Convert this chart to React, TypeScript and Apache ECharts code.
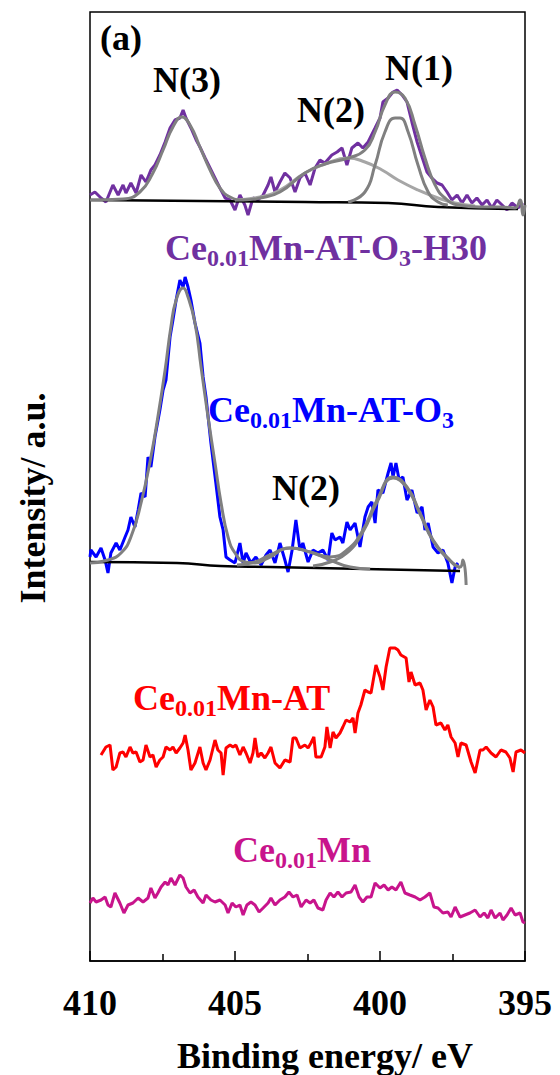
import React, { useEffect, useRef } from "react";
import * as echarts from "echarts";

// Binding energy (eV) vs. intensity (a.u., spectra stacked with offsets)
const purpleData: number[][] = [
  [410.0, 766], [409.83, 769], [409.62, 763], [409.45, 759], [409.21, 776], [409.03, 766], [408.86, 776],
  [408.76, 768], [408.59, 778], [408.41, 768], [408.24, 786], [408.07, 779], [407.9, 791], [407.76, 796],
  [407.59, 806], [407.41, 819], [407.24, 833], [407.07, 841], [406.9, 843], [406.79, 851], [406.69, 843],
  [406.52, 833], [406.34, 821], [406.21, 814], [406.03, 803], [405.86, 793], [405.69, 783], [405.52, 773],
  [405.34, 763], [405.17, 761], [405.0, 751], [404.83, 766], [404.66, 756], [404.55, 746], [404.38, 763],
  [404.21, 761], [404.03, 766], [403.86, 776], [403.76, 784], [403.62, 769], [403.45, 779], [403.28, 788],
  [403.1, 783], [402.93, 769], [402.76, 783], [402.59, 788], [402.41, 776], [402.24, 793], [402.07, 801],
  [401.9, 798], [401.66, 806], [401.48, 809], [401.31, 813], [401.14, 796], [400.97, 813], [400.76, 818],
  [400.59, 813], [400.41, 819], [400.17, 833], [400.0, 843], [399.9, 859], [399.72, 863], [399.55, 869],
  [399.41, 871], [399.24, 866], [399.07, 859], [398.9, 839], [398.72, 819], [398.55, 804], [398.38, 789],
  [398.21, 783], [398.03, 778], [397.86, 776], [397.69, 769], [397.52, 761], [397.34, 766], [397.17, 758],
  [397.0, 766], [396.83, 758], [396.66, 763], [396.48, 756], [396.31, 761], [396.14, 753], [395.97, 761],
  [395.79, 756], [395.62, 751], [395.45, 758], [395.24, 753], [395.07, 758]
];
const purpleEnvelope: number[][] = [
  [410.0, 761], [408.86, 762], [408.28, 769], [407.83, 788], [407.48, 811], [407.14, 834], [406.83, 844],
  [406.55, 836], [406.21, 814], [405.86, 791], [405.52, 773], [405.17, 764], [404.72, 761], [404.14, 763],
  [403.45, 769], [402.59, 788], [401.9, 797], [401.1, 803], [400.52, 811], [400.17, 829], [399.83, 856],
  [399.48, 869], [399.14, 863], [398.79, 836], [398.45, 803], [398.1, 776], [397.76, 763], [397.31, 756],
  [396.55, 754], [395.86, 754], [395.34, 753], [395.17, 761], [395.07, 746], [395.0, 756]
];
const purpleN1: number[][] = [
  [401.1, 759], [400.52, 769], [400.17, 796], [399.83, 829], [399.48, 843], [399.31, 843], [399.03, 829],
  [398.69, 796], [398.34, 769], [398.0, 759], [397.66, 756]
];
const purpleN2: number[][] = [
  [405.0, 761], [404.14, 764], [403.45, 771], [402.59, 788], [401.9, 797], [401.1, 803], [400.52, 799],
  [399.93, 791], [399.38, 781], [398.69, 771], [398.0, 763], [397.41, 758], [396.72, 755]
];
const purpleBaseline: number[][] = [
  [410.0, 761], [402.59, 759], [399.72, 758], [398.0, 754], [395.24, 752]
];

const blueData: number[][] = [
  [410.0, 404], [409.97, 411], [409.79, 404], [409.62, 413], [409.48, 401], [409.38, 388], [409.28, 408],
  [409.1, 418], [408.97, 411], [408.79, 424], [408.69, 431], [408.59, 444], [408.45, 434], [408.34, 451],
  [408.24, 468], [408.1, 464], [408.0, 504], [407.9, 494], [407.76, 524], [407.59, 551], [407.48, 571],
  [407.38, 581], [407.24, 624], [407.14, 641], [407.03, 661], [406.9, 681], [406.79, 674], [406.72, 684],
  [406.62, 674], [406.52, 661], [406.38, 638], [406.21, 618], [406.1, 584], [406.0, 564], [405.83, 518],
  [405.66, 478], [405.52, 444], [405.41, 431], [405.31, 404], [405.17, 401], [405.0, 398], [404.83, 418],
  [404.72, 398], [404.62, 408], [404.45, 398], [404.28, 404], [404.1, 396], [403.93, 406], [403.79, 411],
  [403.62, 398], [403.45, 418], [403.28, 401], [403.17, 389], [403.03, 411], [402.9, 441], [402.76, 411],
  [402.66, 418], [402.48, 399], [402.31, 411], [402.14, 408], [401.97, 411], [401.79, 401], [401.66, 428],
  [401.55, 421], [401.38, 424], [401.28, 418], [401.14, 439], [401.03, 431], [400.86, 438], [400.69, 414],
  [400.52, 444], [400.41, 454], [400.28, 459], [400.17, 438], [400.07, 471], [399.9, 468], [399.72, 488],
  [399.62, 498], [399.55, 484], [399.45, 498], [399.34, 481], [399.21, 484], [399.07, 461], [398.9, 471],
  [398.72, 448], [398.55, 454], [398.45, 431], [398.34, 438], [398.17, 414], [398.0, 408], [397.83, 411],
  [397.66, 398], [397.52, 378], [397.41, 394], [397.31, 398]
];
const blueEnvelope: number[][] = [
  [410.0, 398], [409.38, 401], [408.93, 408], [408.59, 424], [408.24, 458], [407.9, 504], [407.66, 544],
  [407.41, 591], [407.21, 634], [407.03, 661], [406.79, 673], [406.62, 664], [406.38, 638], [406.17, 594],
  [405.93, 544], [405.69, 498], [405.48, 458], [405.24, 424], [405.0, 408], [404.66, 399], [404.31, 398],
  [403.86, 403], [403.1, 413], [402.41, 409], [401.72, 404], [401.14, 411], [400.59, 431], [400.1, 461],
  [399.55, 484], [399.07, 474], [398.62, 448], [398.17, 421], [397.69, 404], [397.24, 394], [397.14, 401],
  [397.03, 376]
];
const blueN1: number[][] = [
  [402.31, 395], [401.72, 399], [401.14, 408], [400.59, 429], [400.1, 459], [399.55, 483], [399.07, 473],
  [398.62, 447], [398.17, 420], [397.69, 403], [397.24, 393]
];
const blueN2: number[][] = [
  [404.93, 396], [404.31, 399], [403.79, 406], [403.1, 413], [402.41, 409], [401.72, 401], [401.03, 394],
  [400.34, 392]
];
const blueBaseline: number[][] = [
  [410.0, 399], [407.0, 398], [405.5, 395], [403.79, 394], [397.24, 390]
];

const redData: number[][] = [
  [409.62, 206], [409.45, 214], [409.31, 216], [409.21, 191], [409.1, 194], [408.97, 208], [408.86, 209],
  [408.76, 204], [408.62, 214], [408.52, 208], [408.41, 209], [408.28, 199], [408.17, 201], [408.07, 216],
  [407.93, 204], [407.83, 206], [407.72, 194], [407.59, 201], [407.48, 204], [407.38, 214], [407.24, 211],
  [407.14, 214], [407.03, 208], [406.9, 213], [406.79, 218], [406.72, 226], [406.62, 211], [406.52, 191],
  [406.38, 198], [406.21, 214], [406.1, 198], [406.0, 191], [405.86, 201], [405.69, 221], [405.59, 211],
  [405.48, 208], [405.41, 186], [405.31, 213], [405.17, 216], [405.07, 214], [404.97, 216], [404.83, 206],
  [404.72, 214], [404.62, 208], [404.48, 198], [404.38, 208], [404.31, 223], [404.21, 204], [404.1, 208],
  [403.97, 203], [403.86, 208], [403.76, 214], [403.62, 198], [403.45, 193], [403.28, 201], [403.1, 199],
  [403.0, 223], [402.9, 223], [402.76, 213], [402.59, 216], [402.48, 213], [402.38, 218], [402.28, 224],
  [402.21, 204], [402.03, 204], [401.9, 214], [401.83, 234], [401.72, 213], [401.62, 229], [401.52, 223],
  [401.38, 228], [401.28, 234], [401.17, 241], [401.03, 239], [400.93, 243], [400.86, 228], [400.76, 248],
  [400.66, 256], [400.52, 271], [400.41, 269], [400.31, 268], [400.14, 296], [400.0, 284], [399.9, 271],
  [399.79, 294], [399.66, 313], [399.48, 313], [399.38, 311], [399.28, 306], [399.1, 303], [399.0, 279],
  [398.93, 289], [398.79, 276], [398.62, 278], [398.52, 271], [398.41, 251], [398.28, 261], [398.17, 254],
  [398.07, 236], [397.9, 238], [397.76, 231], [397.66, 236], [397.55, 224], [397.41, 218], [397.31, 204],
  [397.21, 218], [397.03, 216], [396.86, 199], [396.72, 188], [396.55, 211], [396.45, 211], [396.34, 214],
  [396.17, 208], [396.0, 204], [395.83, 211], [395.66, 209], [395.52, 203], [395.41, 189], [395.31, 209],
  [395.14, 211], [395.0, 208]
];

const magentaData: number[][] = [
  [410.0, 58], [409.9, 63], [409.79, 59], [409.62, 61], [409.48, 64], [409.38, 56], [409.28, 54],
  [409.14, 68], [408.97, 58], [408.83, 48], [408.69, 56], [408.52, 58], [408.34, 63], [408.17, 59],
  [408.0, 63], [407.9, 73], [407.76, 63], [407.66, 68], [407.55, 74], [407.41, 79], [407.31, 76],
  [407.21, 83], [407.07, 76], [406.9, 86], [406.79, 83], [406.69, 74], [406.55, 68], [406.41, 71],
  [406.28, 64], [406.1, 58], [406.0, 66], [405.83, 61], [405.69, 59], [405.52, 61], [405.34, 56],
  [405.24, 48], [405.1, 58], [404.97, 54], [404.83, 56], [404.72, 46], [404.59, 56], [404.45, 59],
  [404.31, 56], [404.17, 49], [404.03, 53], [403.86, 58], [403.76, 63], [403.62, 56], [403.45, 61],
  [403.28, 64], [403.14, 69], [403.0, 64], [402.86, 66], [402.72, 54], [402.55, 61], [402.41, 58],
  [402.28, 61], [402.14, 53], [401.97, 51], [401.86, 61], [401.72, 68], [401.59, 64], [401.45, 69],
  [401.31, 64], [401.17, 68], [401.0, 69], [400.86, 76], [400.72, 64], [400.59, 59], [400.45, 64],
  [400.31, 64], [400.17, 78], [400.0, 73], [399.86, 76], [399.72, 71], [399.59, 74], [399.45, 71],
  [399.28, 79], [399.14, 68], [398.97, 66], [398.79, 64], [398.62, 61], [398.45, 64], [398.28, 68],
  [398.14, 54], [398.0, 53], [397.83, 48], [397.66, 49], [397.55, 44], [397.41, 54], [397.24, 44],
  [397.07, 46], [396.9, 48], [396.72, 51], [396.55, 44], [396.41, 48], [396.28, 43], [396.17, 51],
  [396.03, 43], [395.86, 48], [395.76, 41], [395.62, 46], [395.48, 53], [395.34, 46], [395.17, 48],
  [395.07, 39], [395.0, 38]
];

const FF = "Liberation Serif";
const C_PURPLE = "#7030A0";
const C_BLUE = "#0000FF";
const C_RED = "#FF0000";
const C_MAGENTA = "#C8148C";
const C_FIT = "#808080";
const C_FIT2 = "#A6A6A6";

function lineSeries(data: number[][], color: string, width: number, smooth: boolean | number, z: number) {
  return {
    type: "line",
    data,
    showSymbol: false,
    symbol: "none",
    smooth,
    lineStyle: { color, width },
    z,
    silent: true,
  };
}

function richLabel(text: string, color: string, x: number, y: number) {
  return {
    type: "text",
    x,
    y,
    style: {
      text,
      align: "left",
      verticalAlign: "middle",
      fill: color,
      fontFamily: FF,
      fontWeight: "bold",
      fontSize: 36,
      rich: {
        m: { fontFamily: FF, fontWeight: "bold", fontSize: 36, lineHeight: 40, verticalAlign: "top", fill: color },
        s: { fontFamily: FF, fontWeight: "bold", fontSize: 24, lineHeight: 18, verticalAlign: "bottom", fill: color },
      },
    },
  };
}

function plainLabel(text: string, x: number, y: number, align: string = "center", rotation = 0) {
  return {
    type: "text",
    x,
    y,
    rotation,
    style: {
      text,
      align,
      verticalAlign: "middle",
      fill: "#000",
      fontFamily: FF,
      fontWeight: "bold",
      fontSize: 36,
    },
  };
}

export default function App() {
  const ref = useRef<HTMLDivElement>(null);
  useEffect(() => {
    if (!ref.current) return;
    const chart = echarts.init(ref.current, undefined, { renderer: "svg" });
    chart.setOption({
      animation: false,
      backgroundColor: "#fff",
      textStyle: { fontFamily: FF },
      grid: { left: 90, right: 35, top: 12, bottom: 114, show: true, borderColor: "#000", borderWidth: 1.5 },
      xAxis: {
        type: "value",
        min: 395,
        max: 410,
        interval: 5,
        inverse: true,
        axisLine: { show: true, lineStyle: { color: "#000", width: 1.5 } },
        axisTick: { show: true, inside: true, length: 10, lineStyle: { color: "#000", width: 1.5 } },
        minorTick: { show: true, splitNumber: 2, length: 7, lineStyle: { color: "#000", width: 1.5 } },
        axisLabel: { color: "#000", fontFamily: FF, fontWeight: "bold", fontSize: 36, margin: 24 },
        splitLine: { show: false },
      },
      yAxis: {
        type: "value",
        min: 0,
        max: 949,
        axisLine: { show: false },
        axisTick: { show: false },
        axisLabel: { show: false },
        splitLine: { show: false },
      },
      series: [
        lineSeries(magentaData, C_MAGENTA, 3, false, 2),
        lineSeries(redData, C_RED, 3, false, 2),
        lineSeries(blueData, C_BLUE, 3, false, 2),
        lineSeries(purpleData, C_PURPLE, 3, false, 2),
        lineSeries(blueBaseline, "#000", 2.5, true, 3),
        lineSeries(purpleBaseline, "#000", 2.5, true, 3),
        lineSeries(blueN2, C_FIT, 3, true, 4),
        lineSeries(blueN1, C_FIT, 3, true, 4),
        lineSeries(blueEnvelope, C_FIT, 3, true, 5),
        lineSeries(purpleN2, C_FIT2, 3, true, 4),
        lineSeries(purpleN1, C_FIT, 3, true, 4),
        lineSeries(purpleEnvelope, C_FIT, 3, true, 5),
      ],
      graphic: [
        plainLabel("(a)", 100, 38, "left"),
        plainLabel("N(3)", 187, 80),
        plainLabel("N(2)", 331, 110),
        plainLabel("N(1)", 419, 68),
        plainLabel("N(2)", 306, 488),
        richLabel("{m|Ce}{s|0.01}{m|Mn-AT-O}{s|3}{m|-H30}", C_PURPLE, 165, 250),
        richLabel("{m|Ce}{s|0.01}{m|Mn-AT-O}{s|3}", C_BLUE, 208, 412),
        richLabel("{m|Ce}{s|0.01}{m|Mn-AT}", C_RED, 133, 700),
        richLabel("{m|Ce}{s|0.01}{m|Mn}", C_MAGENTA, 233, 852),
        plainLabel("Binding energy/ eV", 325, 1056),
        plainLabel("Intensity/ a.u.", 33, 498, "center", Math.PI / 2),
      ],
    });
    return () => chart.dispose();
  }, []);
  return <div ref={ref} style={{ position: "absolute", left: 0, top: 0, width: 560, height: 1075 }} />;
}
